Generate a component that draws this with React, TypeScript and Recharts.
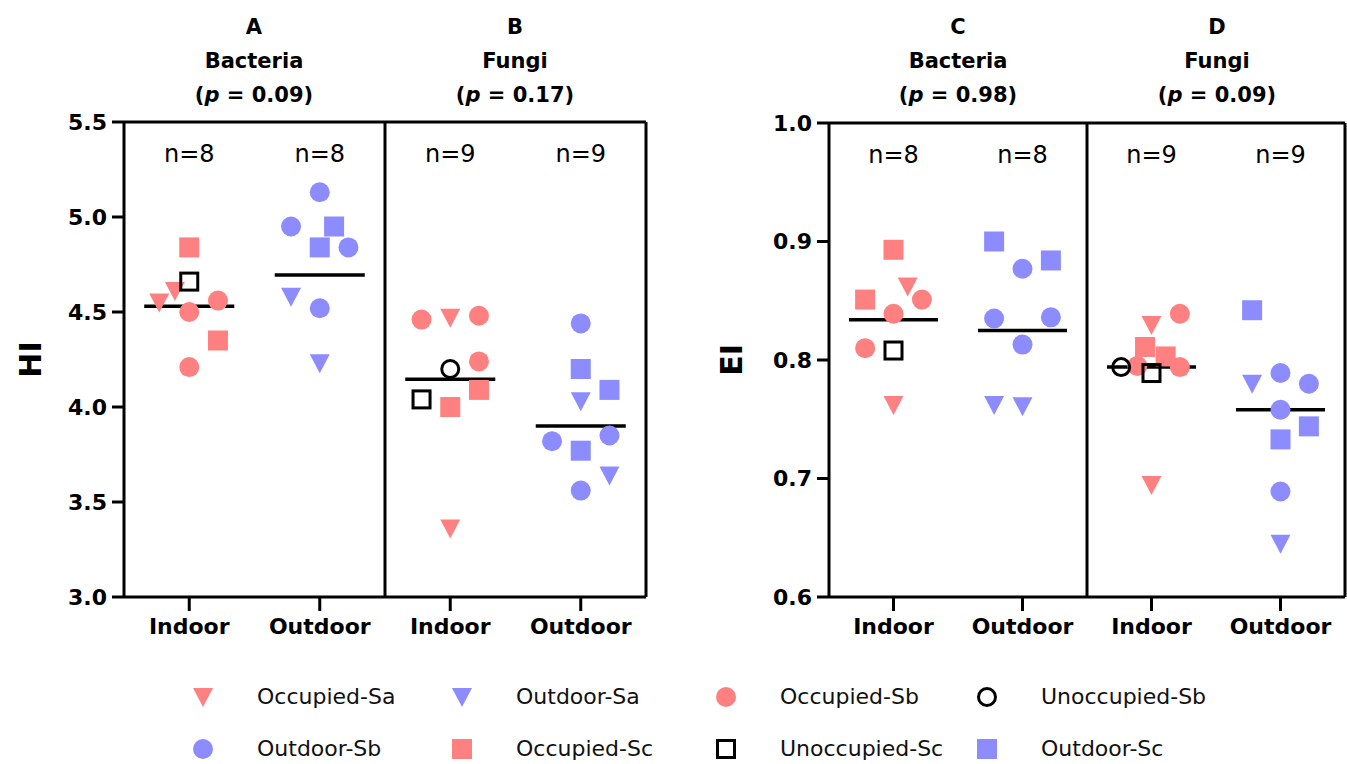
import React from 'react'
import { ScatterChart, Scatter, XAxis, YAxis, ReferenceLine, ReferenceDot } from 'recharts'

const PINK = '#ff8080'
const BLUE = '#8c8cff'
const FONT = '"DejaVu Sans", "Liberation Sans", sans-serif'

const categories = ['Indoor', 'Outdoor', 'Indoor', 'Outdoor']

// each point: [category index, horizontal jitter, value]
type Pt = [number, number, number]

// HI (panels A and B)
const HI_OCC_SA: Pt[] = [[0, -0.11, 4.61], [0, -0.23, 4.55], [2, 0, 4.47], [2, 0, 3.36]]
const HI_OUT_SA: Pt[] = [[1, -0.22, 4.58], [1, 0, 4.23], [3, 0, 4.03], [3, 0.22, 3.64]]
const HI_OCC_SB: Pt[] = [[0, 0.22, 4.56], [0, 0, 4.5], [0, 0, 4.21], [2, -0.22, 4.46], [2, 0.22, 4.48], [2, 0.22, 4.24]]
const HI_UNOCC_SB: Pt[] = [[2, 0, 4.2]]
const HI_OUT_SB: Pt[] = [[1, 0, 5.13], [1, -0.22, 4.95], [1, 0.22, 4.84], [1, 0, 4.52], [3, 0, 4.44], [3, -0.22, 3.82], [3, 0.22, 3.85], [3, 0, 3.56]]
const HI_OCC_SC: Pt[] = [[0, 0, 4.84], [0, 0.22, 4.35], [2, 0.22, 4.09], [2, 0, 4.0]]
const HI_UNOCC_SC: Pt[] = [[0, 0, 4.66], [2, -0.22, 4.04]]
const HI_OUT_SC: Pt[] = [[1, 0.11, 4.95], [1, 0, 4.84], [3, 0, 4.2], [3, 0.22, 4.09], [3, 0, 3.77]]
const HI_MEANS = [4.53, 4.695, 4.146, 3.9]

// EI (panels C and D)
const EI_OCC_SA: Pt[] = [[0, 0.11, 0.862], [0, 0, 0.762], [2, 0, 0.8295], [2, 0, 0.6945]]
const EI_OUT_SA: Pt[] = [[1, -0.22, 0.762], [1, 0, 0.761], [3, -0.22, 0.78], [3, 0, 0.645]]
const EI_OCC_SB: Pt[] = [[0, 0.22, 0.851], [0, 0, 0.839], [0, -0.22, 0.81], [2, 0.22, 0.839], [2, -0.11, 0.795], [2, 0.22, 0.794]]
const EI_UNOCC_SB: Pt[] = [[2, -0.235, 0.794]]
const EI_OUT_SB: Pt[] = [[1, 0, 0.877], [1, -0.22, 0.835], [1, 0.22, 0.836], [1, 0, 0.813], [3, 0, 0.789], [3, 0.22, 0.78], [3, 0, 0.758], [3, 0, 0.689]]
const EI_OCC_SC: Pt[] = [[0, 0, 0.893], [0, -0.22, 0.851], [2, -0.05, 0.811], [2, 0.11, 0.803]]
const EI_UNOCC_SC: Pt[] = [[0, 0, 0.808], [2, 0, 0.789]]
const EI_OUT_SC: Pt[] = [[1, -0.22, 0.9], [1, 0.22, 0.884], [3, -0.22, 0.842], [3, 0.22, 0.744], [3, 0, 0.733]]
const EI_MEANS = [0.834, 0.825, 0.794, 0.758]

const N_COUNTS = [8, 8, 9, 9]

const series = [
  { key: 'occSa', name: 'Occupied-Sa', kind: 'tri', color: PINK },
  { key: 'outSa', name: 'Outdoor-Sa', kind: 'tri', color: BLUE },
  { key: 'occSb', name: 'Occupied-Sb', kind: 'circle', color: PINK },
  { key: 'unoccSb', name: 'Unoccupied-Sb', kind: 'openCircle', color: '#000' },
  { key: 'outSb', name: 'Outdoor-Sb', kind: 'circle', color: BLUE },
  { key: 'occSc', name: 'Occupied-Sc', kind: 'square', color: PINK },
  { key: 'unoccSc', name: 'Unoccupied-Sc', kind: 'openSquare', color: '#000' },
  { key: 'outSc', name: 'Outdoor-Sc', kind: 'square', color: BLUE },
]

const hiData: Record<string, Pt[]> = {
  occSa: HI_OCC_SA, outSa: HI_OUT_SA, occSb: HI_OCC_SB, unoccSb: HI_UNOCC_SB,
  outSb: HI_OUT_SB, occSc: HI_OCC_SC, unoccSc: HI_UNOCC_SC, outSc: HI_OUT_SC,
}
const eiData: Record<string, Pt[]> = {
  occSa: EI_OCC_SA, outSa: EI_OUT_SA, occSb: EI_OCC_SB, unoccSb: EI_UNOCC_SB,
  outSb: EI_OUT_SB, occSc: EI_OCC_SC, unoccSc: EI_UNOCC_SC, outSc: EI_OUT_SC,
}

function Marker({ kind, color, cx, cy }: { kind: string; color: string; cx: number; cy: number }) {
  if (kind === 'tri') {
    return <polygon points={`${cx - 10},${cy - 9} ${cx + 10},${cy - 9} ${cx},${cy + 10}`} fill={color} />
  }
  if (kind === 'circle') return <circle cx={cx} cy={cy} r={10} fill={color} />
  if (kind === 'square') return <rect x={cx - 10} y={cy - 10} width={20} height={20} fill={color} />
  if (kind === 'openCircle') return <circle cx={cx} cy={cy} r={8.5} fill="none" stroke={color} strokeWidth={3} />
  return <rect x={cx - 8.5} y={cy - 8.5} width={17} height={17} fill="none" stroke={color} strokeWidth={3} />
}

interface PanelProps {
  left: number
  width: number
  top: number
  bottom: number
  domain: [number, number]
  ticks: number[]
  label: string
  labelX: number
  data: Record<string, Pt[]>
  means: number[]
}

function Panel({ left, width, top, bottom, domain, ticks, label, labelX, data, means }: PanelProps) {
  const height = 660
  const axisStroke = { stroke: '#000', strokeWidth: 3 }
  return (
    <div style={{ position: 'absolute', left, top: 0 }}>
      <ScatterChart width={width} height={height} margin={{ top, right: 2, bottom: 0, left: 0 }}>
        <XAxis
          type="number"
          dataKey="x"
          domain={[0, 4]}
          ticks={[0.5, 1.5, 2.5, 3.5]}
          interval={0}
          tickFormatter={(v) => categories[Math.floor(v)]}
          height={height - bottom}
          axisLine={axisStroke}
          tickLine={axisStroke}
          tickSize={14}
          tickMargin={7}
          tick={{ fill: '#000', fontSize: 22, fontWeight: 'bold', fontFamily: FONT }}
        />
        <YAxis
          type="number"
          dataKey="y"
          domain={domain}
          ticks={ticks}
          interval={0}
          tickFormatter={(v) => Number(v).toFixed(1)}
          width={124}
          axisLine={axisStroke}
          tickLine={axisStroke}
          tickSize={12}
          tickMargin={5}
          tick={{ fill: '#000', fontSize: 22, fontWeight: 'bold', fontFamily: FONT }}
          label={{
            value: label,
            content: (p: any) => {
              const vb = p.viewBox
              const cy = vb.y + vb.height / 2
              return (
                <text
                  x={labelX}
                  y={cy}
                  transform={`rotate(-90 ${labelX} ${cy})`}
                  textAnchor="middle"
                  dominantBaseline="central"
                  fontSize={30}
                  fontWeight="bold"
                  fontFamily={FONT}
                  fill="#000"
                >
                  {label}
                </text>
              )
            },
          }}
        />
        {series.map((s) => (
          <Scatter
            key={s.key}
            name={s.name}
            data={data[s.key].map(([c, j, v]) => ({ x: c + 0.5 + j, y: v }))}
            isAnimationActive={false}
            shape={(p: any) => <Marker kind={s.kind} color={s.color} cx={p.cx} cy={p.cy} />}
          />
        ))}
        {means.map((m, i) => (
          <ReferenceLine
            key={`mean-${i}`}
            segment={[{ x: i + 0.5 - 0.345, y: m }, { x: i + 0.5 + 0.345, y: m }]}
            stroke="#000"
            strokeWidth={3.5}
          />
        ))}
        <ReferenceLine y={domain[1]} stroke="#000" strokeWidth={3} />
        <ReferenceLine x={2} stroke="#000" strokeWidth={3} />
        <ReferenceLine x={4} stroke="#000" strokeWidth={3} />
        {N_COUNTS.map((n, i) => (
          <ReferenceDot
            key={`n-${i}`}
            x={i + 0.5}
            y={domain[1]}
            r={1}
            fill="none"
            stroke="none"
            label={{ value: `n=${n}`, position: 'bottom', offset: 22, fontSize: 24, fontFamily: FONT, fill: '#000' }}
          />
        ))}
      </ScatterChart>
    </div>
  )
}

const titles = [
  { x: 254, letter: 'A', taxon: 'Bacteria', p: '0.09' },
  { x: 515, letter: 'B', taxon: 'Fungi', p: '0.17' },
  { x: 958, letter: 'C', taxon: 'Bacteria', p: '0.98' },
  { x: 1217, letter: 'D', taxon: 'Fungi', p: '0.09' },
]

const legendCols = [203, 462, 726, 987]
const legendRows = [697, 749]

export default function App() {
  return (
    <div
      style={{
        position: 'absolute',
        left: 0,
        top: 0,
        width: 1347,
        height: 764,
        overflow: 'hidden',
        background: '#fff',
        fontFamily: FONT,
      }}
    >
      <Panel
        left={0}
        width={648}
        top={122}
        bottom={597}
        domain={[3, 5.5]}
        ticks={[3, 3.5, 4, 4.5, 5, 5.5]}
        label="HI"
        labelX={30}
        data={hiData}
        means={HI_MEANS}
      />
      <Panel
        left={705}
        width={642}
        top={123}
        bottom={597}
        domain={[0.6, 1.0]}
        ticks={[0.6, 0.7, 0.8, 0.9, 1.0]}
        label="EI"
        labelX={26}
        data={eiData}
        means={EI_MEANS}
      />
      {titles.map((t) => (
        <div
          key={t.letter}
          style={{
            position: 'absolute',
            left: t.x - 100,
            top: 10,
            width: 200,
            textAlign: 'center',
            fontSize: 21,
            fontWeight: 'bold',
            lineHeight: '34px',
            color: '#000',
          }}
        >
          <div>{t.letter}</div>
          <div>{t.taxon}</div>
          <div>
            (<i>p</i> = {t.p})
          </div>
        </div>
      ))}
      {series.map((s, i) => {
        const mx = legendCols[i % 4]
        const my = legendRows[Math.floor(i / 4)]
        return (
          <React.Fragment key={s.key}>
            <svg
              width={24}
              height={24}
              style={{ position: 'absolute', left: mx - 12, top: my - 12 }}
            >
              <Marker kind={s.kind} color={s.color} cx={12} cy={12} />
            </svg>
            <div
              style={{
                position: 'absolute',
                left: mx + 54,
                top: my - 15,
                height: 30,
                lineHeight: '30px',
                fontSize: 22,
                color: '#111',
                whiteSpace: 'nowrap',
              }}
            >
              {s.name}
            </div>
          </React.Fragment>
        )
      })}
    </div>
  )
}
